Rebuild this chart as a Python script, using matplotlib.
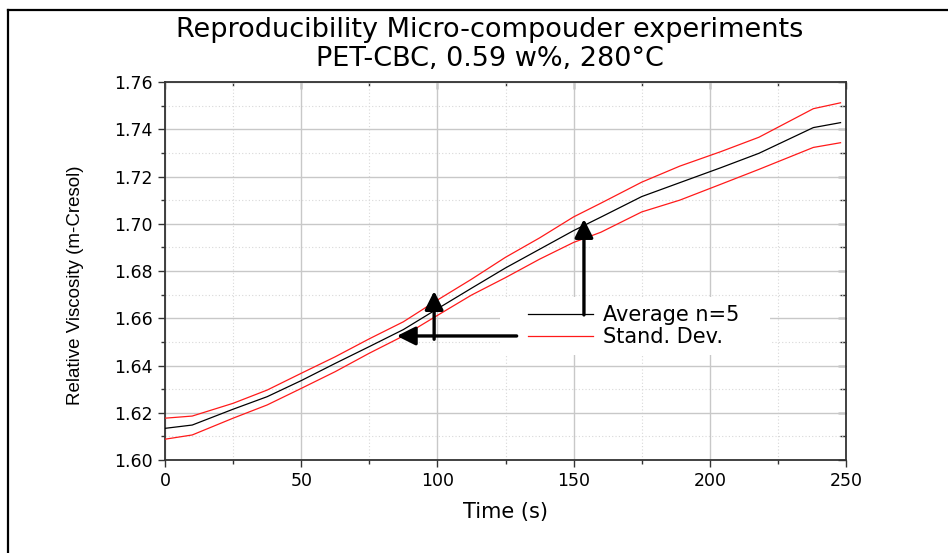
import matplotlib

matplotlib.use("Agg")
import matplotlib.pyplot as plt
from matplotlib.lines import Line2D
from matplotlib.patches import Rectangle
from matplotlib.ticker import MultipleLocator, FormatStrFormatter

# values
time_s = [0, 10, 25, 37.5, 50, 62.5, 75, 87.5, 100, 112.5, 125, 137.5,
          150, 160, 175, 189, 204, 218, 238, 248]
visc_mean = [1.6134, 1.6148, 1.6215, 1.6268, 1.6336, 1.6409, 1.6480, 1.6552,
             1.6640, 1.6727, 1.6813, 1.6892, 1.6971, 1.7028, 1.7115, 1.7174,
             1.7237, 1.7298, 1.7407, 1.7428]
visc_upper = [1.6177, 1.6186, 1.6240, 1.6296, 1.6367, 1.6437, 1.6513, 1.6585,
              1.6677, 1.6765, 1.6858, 1.6940, 1.7029, 1.7087, 1.7176, 1.7244,
              1.7305, 1.7366, 1.7487, 1.7512]
visc_lower = [1.6088, 1.6106, 1.6177, 1.6233, 1.6303, 1.6374, 1.6452, 1.6525,
              1.6612, 1.6698, 1.6772, 1.6850, 1.6921, 1.6964, 1.7050, 1.7100,
              1.7167, 1.7230, 1.7323, 1.7343]

title_lines = ["Reproducibility Micro-compouder experiments", "PET-CBC, 0.59 w%, 280°C"]
legend_labels = ["Average n=5", "Stand. Dev."]

# annotation arrows: (tail, head) in data coordinates
arrows = [
    ((153.8, 1.6614), (153.8, 1.7020)),
    ((98.8, 1.6511), (98.8, 1.6715)),
    ((129.1, 1.6525), (85.1, 1.6525)),
]

RED = "#ff1a1a"
W, H = 948, 553

fig = plt.figure(figsize=(W / 100, H / 100), dpi=100)
ax = fig.add_axes([165 / W, (H - 460) / H, 681 / W, 378 / H])

ax.plot(time_s, visc_mean, color="black", lw=0.9, zorder=3)
ax.plot(time_s, visc_upper, color=RED, lw=0.9, zorder=3)
ax.plot(time_s, visc_lower, color=RED, lw=0.9, zorder=3)

ax.set_xlim(0, 250)
ax.set_ylim(1.60, 1.76)
ax.xaxis.set_major_locator(MultipleLocator(50))
ax.xaxis.set_minor_locator(MultipleLocator(25))
ax.yaxis.set_major_locator(MultipleLocator(0.02))
ax.yaxis.set_minor_locator(MultipleLocator(0.01))
ax.yaxis.set_major_formatter(FormatStrFormatter("%.2f"))

ax.grid(True, which="major", color="#c8c8c8", lw=1.0, zorder=0)
ax.grid(True, which="minor", color="#d8d8d8", lw=0.8, ls=(0, (1, 2)), zorder=0)
ax.set_axisbelow(True)

for spine in ax.spines.values():
    spine.set_color("#333333")
    spine.set_linewidth(1.3)

ax.tick_params(which="major", direction="out", length=5, width=1.0, color="#333333",
               labelsize=12.5, pad=4)
ax.tick_params(which="minor", direction="out", length=3, width=1.0, color="#333333")

# mirrored ticks pointing inwards on top and right
top = ax.secondary_xaxis("top")
top.xaxis.set_major_locator(MultipleLocator(50))
top.xaxis.set_minor_locator(MultipleLocator(25))
top.tick_params(which="major", direction="in", length=5, width=1.0, color="#333333", labeltop=False)
top.tick_params(which="minor", direction="in", length=3, width=1.0, color="#333333")
top.spines["top"].set_visible(False)
right = ax.secondary_yaxis("right")
right.yaxis.set_major_locator(MultipleLocator(0.02))
right.yaxis.set_minor_locator(MultipleLocator(0.01))
right.tick_params(which="major", direction="in", length=6, width=1.0, color="#333333", labelright=False)
right.tick_params(which="minor", direction="in", length=4, width=1.0, color="#333333")
right.spines["right"].set_visible(False)

ax.set_xlabel("Time (s)", fontsize=15, labelpad=8)
ax.set_ylabel("Relative Viscosity (m-Cresol)", fontsize=13.5, family="Liberation Sans")
ax.yaxis.set_label_coords(-0.119, 0.463)

# white box behind the legend
ax.add_patch(Rectangle((0.492, 0.278), 0.396, 0.153, transform=ax.transAxes,
                       facecolor="white", edgecolor="none", zorder=2.5))
handles = [Line2D([], [], color="black", lw=0.9), Line2D([], [], color=RED, lw=0.9)]
leg = ax.legend(handles, legend_labels, loc="center left", bbox_to_anchor=(0.533, 0.354),
                frameon=False, fontsize=15, handlelength=3.1, handletextpad=0.5,
                labelspacing=0.12, borderpad=0, borderaxespad=0)
leg.set_zorder(4)

for (x0, y0), (x1, y1) in arrows:
    ax.annotate("", xy=(x1, y1), xytext=(x0, y0), zorder=6,
                arrowprops=dict(arrowstyle="-|>", color="black", lw=2.4,
                                mutation_scale=28, shrinkA=0, shrinkB=0))

fig.text(490 / W, 1 - 30 / H, title_lines[0], ha="center", va="center", fontsize=19.5)
fig.text(490 / W, 1 - 59 / H, title_lines[1], ha="center", va="center", fontsize=19.5)

# outer frame (only left and top edges visible in the reference)
fig.add_artist(Line2D([8 / W, 8 / W], [0, 1 - 10 / H], color="black", lw=1.6,
                      transform=fig.transFigure))
fig.add_artist(Line2D([8 / W, 1], [1 - 10 / H, 1 - 10 / H], color="black", lw=1.6,
                      transform=fig.transFigure))

fig.savefig("out.png", dpi=100)
